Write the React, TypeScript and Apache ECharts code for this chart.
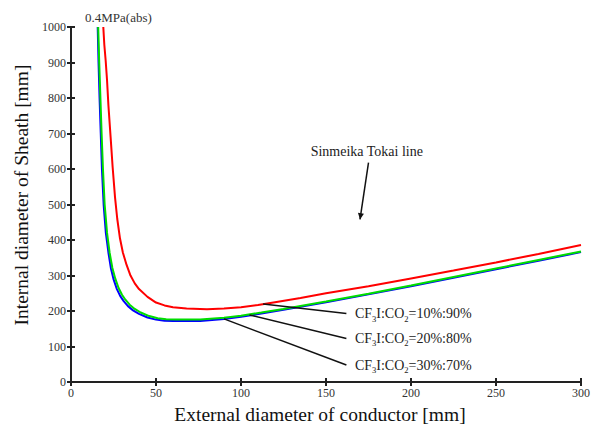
import React, { useEffect, useRef } from "react";
import * as echarts from "echarts";

// CF3I:CO2 = 10%:90% (red)
const redX = [19.0, 19.6, 20.4, 21.2, 22.0, 23.3, 24.5, 25.9, 27.2, 28.8, 30.5, 32.7, 35.0, 37.5, 40.0, 45.0, 50.0, 55.0, 60.0, 68.0, 80.0, 90.0, 100.0, 110.0, 120.0, 135.0, 150.0, 175.0, 200.0, 225.0, 250.0, 275.0, 300.0];
const redY = [1000, 950, 905, 850, 780, 690, 605, 520, 460, 405, 365, 330, 300, 278, 262, 240, 224, 216, 211, 207, 205, 207, 211, 217, 225, 237, 250, 270, 292, 314, 337, 361, 386];

// CF3I:CO2 = 20%:80% (green)
const greenX = [16.0, 16.6, 17.3, 18.0, 18.8, 19.8, 21.2, 22.7, 24.3, 26.0, 28.0, 30.0, 32.0, 34.5, 37.5, 41.0, 46.0, 51.0, 56.0, 62.0, 76.0, 90.0, 100.0, 112.0, 125.0, 150.0, 175.0, 200.0, 225.0, 250.0, 275.0, 300.0];
const greenY = [1000, 900, 800, 700, 600, 500, 420, 365, 322, 292, 265, 246, 232, 218, 206, 196, 186, 180, 177, 176, 176, 181, 187, 196, 206, 227, 249, 272, 296, 320, 344, 368];

// CF3I:CO2 = 30%:70% (blue)
const blueX = [15.7, 16.2, 16.8, 17.5, 18.2, 19.2, 20.5, 22.0, 23.5, 25.0, 27.0, 29.0, 31.0, 33.5, 36.5, 40.0, 45.0, 50.0, 55.0, 60.0, 76.0, 90.0, 100.0, 112.0, 125.0, 150.0, 175.0, 200.0, 225.0, 250.0, 275.0, 300.0];
const blueY = [1000, 900, 800, 700, 600, 500, 420, 365, 320, 290, 262, 242, 228, 214, 202, 192, 182, 176, 173, 172, 172, 178, 184, 193, 204, 225, 247, 270, 294, 318, 342, 366];

const seriesNames = ["CF3I:CO2=10%:90%", "CF3I:CO2=20%:80%", "CF3I:CO2=30%:70%"];
const labelRatios = ["10%:90%", "20%:80%", "30%:70%"];

// annotation anchors in data coordinates
const leaderFrom = [[162, 193], [162, 123], [162, 48]];
const leaderTo = [[113, 220], [105, 189], [90, 178]];
const labelAt = [[167, 193], [167, 123], [167, 48]];
const arrowFrom = [175, 618];
const arrowTo = [170, 458];
const lineNoteAt = [174, 648];
const lineNote = "Sinmeika Tokai line";

const xMin = 0, xMax = 300, xStep = 50;
const yMin = 0, yMax = 1000, yStep = 100;

const zip = (xs: number[], ys: number[]) => xs.map((x, i) => [x, ys[i]]);

const FONT = "'Liberation Serif', 'Times New Roman', serif";

export default function App() {
  const ref = useRef<HTMLDivElement>(null);
  useEffect(() => {
    if (!ref.current) return;
    const chart = echarts.init(ref.current, null, { renderer: "svg" });
    const axisLine = { show: true, lineStyle: { color: "#222", width: 2 } };
    const tickStyle = { show: true, inside: true, length: 4, lineStyle: { color: "#222", width: 2 } };
    const lbl = { fontFamily: FONT, fontSize: 12, color: "#333", formatter: (v: number) => String(v) };
    const mkSeries = (name: string, data: number[][], color: string) => ({
      type: "line",
      name,
      data,
      showSymbol: false,
      smooth: false,
      lineStyle: { color, width: 2 },
      itemStyle: { color },
      z: 3,
    });
    chart.setOption({
      animation: false,
      title: {
        text: "0.4MPa(abs)",
        left: 80,
        top: 6,
        textStyle: { fontFamily: FONT, fontSize: 13, fontWeight: "normal", color: "#333" },
      },
      grid: { left: 71, right: 17, top: 27, bottom: 45, containLabel: false },
      xAxis: [
        {
          type: "value",
          min: xMin,
          max: xMax,
          interval: xStep,
          position: "bottom",
          axisLine,
          axisTick: tickStyle,
          splitLine: { show: false },
          axisLabel: { ...lbl, margin: 5 },
          name: "External diameter of conductor [mm]",
          nameLocation: "middle",
          nameGap: 21,
          nameTextStyle: { fontFamily: FONT, fontSize: 19.5, color: "#111", padding: [0, 12, 0, 0] },
        },
        {
          type: "value",
          min: xMin,
          max: xMax,
          interval: xStep,
          position: "top",
          axisLine,
          axisTick: tickStyle,
          splitLine: { show: false },
          axisLabel: { show: false },
        },
      ],
      yAxis: [
        {
          type: "value",
          min: yMin,
          max: yMax,
          interval: yStep,
          position: "left",
          axisLine,
          axisTick: tickStyle,
          splitLine: { show: false },
          axisLabel: { ...lbl, margin: 5 },
          name: "Internal diameter of Sheath [mm]",
          nameLocation: "middle",
          nameGap: 38,
          nameTextStyle: { fontFamily: FONT, fontSize: 19.5, color: "#111", padding: [0, 0, 0, 19] },
        },
        {
          type: "value",
          min: yMin,
          max: yMax,
          interval: yStep,
          position: "right",
          axisLine,
          axisTick: tickStyle,
          splitLine: { show: false },
          axisLabel: { show: false },
        },
      ],
      series: [
        mkSeries(seriesNames[0], zip(redX, redY), "#ff0000"),
        mkSeries(seriesNames[2], zip(blueX, blueY), "#0000ff"),
        mkSeries(seriesNames[1], zip(greenX, greenY), "#00dd00"),
      ],
    });

    const px = (p: number[]) => chart.convertToPixel({ gridIndex: 0 }, p) as number[];
    const graphics: any[] = [];
    for (let i = 0; i < 3; i++) {
      const a = px(leaderFrom[i]);
      const b = px(leaderTo[i]);
      const l = px(labelAt[i]);
      graphics.push({
        type: "line",
        shape: { x1: a[0], y1: a[1], x2: b[0], y2: b[1] },
        style: { stroke: "#111", lineWidth: 1.5 },
        z: 10,
      });
      graphics.push({
        type: "text",
        x: l[0],
        y: l[1],
        style: {
          text: `CF{s|3}I:CO{s|2}=${labelRatios[i]}`,
          fontFamily: FONT,
          fontSize: 14,
          fill: "#222",
          verticalAlign: "middle",
          align: "left",
          rich: { s: { fontFamily: FONT, fontSize: 8.5, fill: "#222", padding: [10, 0, 0, 0] } },
        },
        z: 10,
      });
    }
    const af = px(arrowFrom);
    const at = px(arrowTo);
    graphics.push({
      type: "line",
      shape: { x1: af[0], y1: af[1], x2: at[0], y2: at[1] },
      style: { stroke: "#111", lineWidth: 1.5 },
      z: 10,
    });
    const ang = Math.atan2(at[1] - af[1], at[0] - af[0]);
    const hl = 7, hw = 0.45;
    graphics.push({
      type: "polygon",
      shape: {
        points: [
          [at[0], at[1]],
          [at[0] - hl * Math.cos(ang - hw), at[1] - hl * Math.sin(ang - hw)],
          [at[0] - hl * Math.cos(ang + hw), at[1] - hl * Math.sin(ang + hw)],
        ],
      },
      style: { fill: "#111" },
      z: 10,
    });
    const ln = px(lineNoteAt);
    graphics.push({
      type: "text",
      x: ln[0],
      y: ln[1],
      style: {
        text: lineNote,
        fontFamily: FONT,
        fontSize: 14,
        fill: "#222",
        align: "center",
        verticalAlign: "middle",
      },
      z: 10,
    });
    chart.setOption({ graphic: graphics });

    return () => chart.dispose();
  }, []);
  return (
    <div
      ref={ref}
      style={{ position: "absolute", left: 0, top: 0, width: 598, height: 429, background: "#fff" }}
    />
  );
}
